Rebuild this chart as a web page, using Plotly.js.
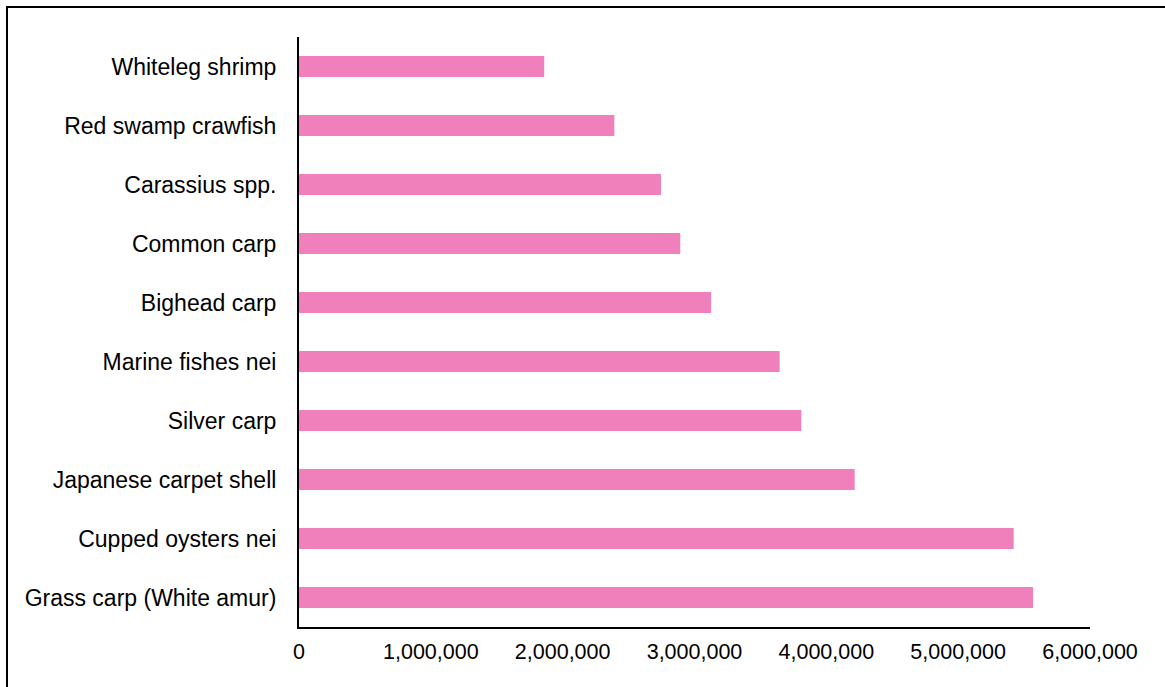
<!DOCTYPE html>
<html>
<head>
<meta charset="utf-8">
<script src="https://cdn.plot.ly/plotly-3.0.1.min.js"></script>
<style>
  html, body { margin: 0; padding: 0; background: #fff; overflow: hidden; }
  #frame { position: absolute; left: 6px; top: 6px; width: 1300px; height: 900px;
           border-left: 2px solid #000; border-top: 2px solid #000; box-sizing: border-box; z-index: 0; }
  #chart { position: absolute; left: 0; top: 0; width: 1165px; height: 687px; z-index: 1; }
</style>
</head>
<body>
<div id="frame"></div>
<div id="chart"></div>
<script>
// Species (top to bottom as shown)
const species = [
  "Whiteleg shrimp",
  "Red swamp crawfish",
  "Carassius spp.",
  "Common carp",
  "Bighead carp",
  "Marine fishes nei",
  "Silver carp",
  "Japanese carpet shell",
  "Cupped oysters nei",
  "Grass carp (White amur)"
];
// Production values
const production = [
  1860000,
  2392000,
  2746000,
  2892000,
  3126000,
  3646000,
  3810000,
  4215000,
  5421000,
  5568000
];
const xTickValues = [0, 1000000, 2000000, 3000000, 4000000, 5000000, 6000000];

const trace = {
  type: "bar",
  orientation: "h",
  y: species,
  x: production,
  marker: { color: "#EF80BC", line: { width: 0 } },
  hoverinfo: "x+y"
};

const font = { family: "Liberation Sans, Arial, sans-serif", size: 22, color: "#000" };

const layout = {
  width: 1165,
  height: 687,
  margin: { l: 299, r: 75, t: 37, b: 60, pad: 0 },
  paper_bgcolor: "rgba(0,0,0,0)",
  plot_bgcolor: "rgba(0,0,0,0)",
  showlegend: false,
  bargap: 0.644,
  font: font,
  xaxis: {
    range: [0, 6000000],
    tickvals: xTickValues,
    tickformat: ",d",
    showgrid: false,
    zeroline: false,
    showline: true,
    linecolor: "#000",
    linewidth: 2,
    ticks: "",
    ticklabelstandoff: 4,
    tickfont: { family: "Liberation Sans, Arial, sans-serif", size: 21.5, color: "#000" },
    fixedrange: true
  },
  yaxis: {
    type: "category",
    autorange: "reversed",
    showgrid: false,
    zeroline: false,
    showline: true,
    linecolor: "#000",
    linewidth: 2,
    ticks: "",
    ticklabelstandoff: 16,
    tickfont: { family: "Liberation Sans, Arial, sans-serif", size: 23, color: "#000" },
    fixedrange: true
  }
};

Plotly.newPlot("chart", [trace], layout, { displayModeBar: false, staticPlot: true });
</script>
</body>
</html>
